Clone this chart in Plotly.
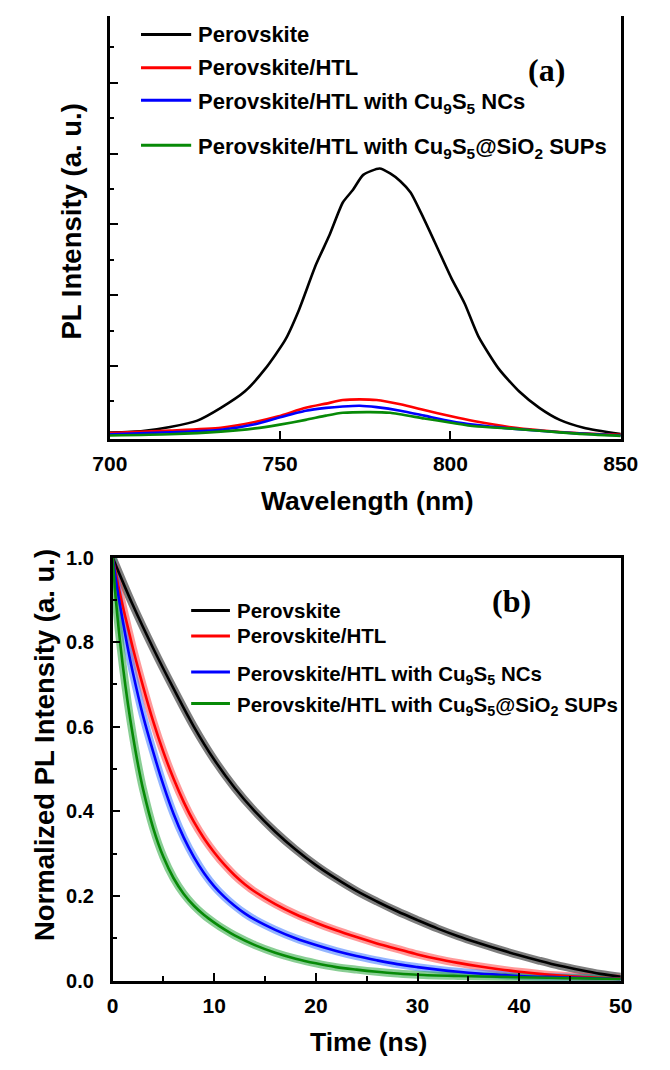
import plotly.graph_objects as go

# ---------------- data ----------------
series_names = [
    "Perovskite",
    "Perovskite/HTL",
    "Perovskite/HTL with Cu<sub>9</sub>S<sub>5</sub> NCs",
    "Perovskite/HTL with Cu<sub>9</sub>S<sub>5</sub>@SiO<sub>2</sub> SUPs",
]
colors = ["#000000", "#ff0000", "#0000ff", "#078a07"]
raw_colors = ["rgba(70,70,70,0.7)", "rgba(255,70,70,0.55)", "rgba(60,120,255,0.55)", "rgba(40,165,60,0.55)"]

# (a) steady-state PL spectra
wl_black = [700, 709.7, 717.7, 725.7, 732.6, 739.6, 745.6, 751.5, 755.5, 760.5, 764.5, 768.4, 771.4, 774.4,
            779.2, 782.3, 785.3, 788.3, 791.3, 795.3, 800.2, 804.2, 808.2, 814.2, 820.2, 826.1, 832.1, 839.1, 850]
pl_black = [0.06, 0.083, 0.14, 0.23, 0.41, 0.64, 0.96, 1.37, 1.79, 2.43, 2.85, 3.31, 3.49, 3.70,
            3.79, 3.72, 3.61, 3.45, 3.17, 2.76, 2.25, 1.88, 1.42, 0.96, 0.64, 0.41, 0.24, 0.13, 0.04]
wl_red = [700, 717.7, 732.6, 742.6, 749.5, 757.5, 763.5, 768.4, 773.4, 778.3, 785.3, 792.3, 800.2, 807.2,
          817.2, 827.1, 837.1, 850]
pl_red = [0.055, 0.09, 0.13, 0.21, 0.29, 0.41, 0.47, 0.52, 0.53, 0.52, 0.46, 0.38, 0.29, 0.22,
          0.14, 0.09, 0.055, 0.03]
wl_blue = [700, 717.7, 732.6, 742.6, 749.5, 757.5, 763.5, 768.4, 773.4, 778.3, 785.3, 792.3, 800.2, 807.2,
           817.2, 827.1, 837.1, 850]
pl_blue = [0.037, 0.065, 0.10, 0.18, 0.27, 0.37, 0.41, 0.43, 0.44, 0.42, 0.37, 0.30, 0.22, 0.17,
           0.12, 0.083, 0.05, 0.02]
wl_green = [700, 717.7, 732.6, 742.6, 749.5, 757.5, 763.5, 768.4, 776.4, 782.3, 792.3, 800.2, 807.2,
            817.2, 827.1, 837.1, 850]
pl_green = [0.02, 0.037, 0.074, 0.12, 0.17, 0.24, 0.30, 0.34, 0.35, 0.34, 0.26, 0.20, 0.15,
            0.12, 0.083, 0.046, 0.014]

# (b) time-resolved PL decays (normalized)
t_black = [0, 2, 4, 6, 8, 10, 12, 14, 16, 18, 20, 22, 24, 26, 28, 30, 32, 34, 36, 38, 40, 42, 44, 46, 48, 50]
i_black = [1.0, 0.887, 0.785, 0.69, 0.60, 0.522, 0.456, 0.40, 0.352, 0.310, 0.273, 0.241, 0.212, 0.187,
           0.164, 0.143, 0.123, 0.105, 0.089, 0.074, 0.060, 0.047, 0.035, 0.025, 0.016, 0.009]
t_red = [0, 0.5, 1, 1.5, 2, 3, 4, 5, 6, 7, 8, 9, 10, 11, 12, 13, 14, 16, 18, 20, 22, 24, 26, 28, 30, 32,
         34, 36, 38, 40, 42, 44, 46, 48, 50]
i_red = [1.0, 0.94, 0.885, 0.835, 0.785, 0.695, 0.612, 0.54, 0.477, 0.422, 0.375, 0.336, 0.303, 0.274,
         0.249, 0.228, 0.210, 0.181, 0.157, 0.137, 0.119, 0.103, 0.088, 0.075, 0.062, 0.051, 0.042, 0.034,
         0.027, 0.021, 0.016, 0.012, 0.009, 0.007, 0.005]
t_blue = [0, 0.5, 1, 1.5, 2, 3, 4, 5, 6, 7, 8, 9, 10, 11, 12, 13, 14, 16, 18, 20, 22, 24, 26, 28, 30, 32,
          34, 36, 38, 40, 44, 50]
i_blue = [1.0, 0.92, 0.85, 0.785, 0.727, 0.625, 0.54, 0.462, 0.394, 0.338, 0.292, 0.254, 0.223, 0.198,
          0.177, 0.159, 0.144, 0.12, 0.100, 0.084, 0.07, 0.058, 0.048, 0.039, 0.032, 0.026, 0.021, 0.017,
          0.014, 0.011, 0.008, 0.004]
t_green = [0, 0.3, 0.6, 1, 1.5, 2, 2.5, 3, 4, 5, 6, 7, 8, 9, 10, 11, 12, 14, 16, 18, 20, 22, 24, 26, 28,
           30, 34, 40, 50]
i_green = [1.0, 0.905, 0.83, 0.745, 0.655, 0.578, 0.51, 0.452, 0.36, 0.292, 0.242, 0.205, 0.177, 0.155,
           0.137, 0.121, 0.107, 0.084, 0.066, 0.052, 0.041, 0.032, 0.026, 0.021, 0.017, 0.014, 0.011,
           0.008, 0.004]

x_ticks_a = [700, 750, 800, 850]
x_ticks_b = [0, 10, 20, 30, 40, 50]
y_ticks_b = [0.0, 0.2, 0.4, 0.6, 0.8, 1.0]

# ---------------- figure ----------------
W, H = 670, 1070
def py(p):  # pixel row -> paper y
    return 1 - p / H
def px(p):
    return p / W

fig = go.Figure()
spectra = [(wl_black, pl_black), (wl_red, pl_red), (wl_blue, pl_blue), (wl_green, pl_green)]
decays = [(t_black, i_black), (t_red, i_red), (t_blue, i_blue), (t_green, i_green)]

for k, (x, y) in enumerate(spectra):
    fig.add_trace(go.Scatter(x=x, y=y, mode="lines", name=series_names[k], showlegend=False,
                             line=dict(color=colors[k], width=2.6, shape="spline", smoothing=0.6),
                             xaxis="x", yaxis="y"))

for k, (x, y) in enumerate(decays):
    fig.add_trace(go.Scatter(x=x, y=y, mode="lines", showlegend=False, hoverinfo="skip",
                             line=dict(color=raw_colors[k], width=8, shape="spline", smoothing=1.0),
                             xaxis="x2", yaxis="y2"))
for k, (x, y) in enumerate(decays):
    fig.add_trace(go.Scatter(x=x, y=y, mode="lines", name=series_names[k], showlegend=False,
                             line=dict(color=colors[k], width=2.6, shape="spline", smoothing=1.0),
                             xaxis="x2", yaxis="y2"))

FONT = "Liberation Sans, Arial, sans-serif"
axis_common = dict(showline=True, linecolor="black", linewidth=2.5, ticks="inside",
                   tickcolor="black", tickwidth=2, ticklen=8, showgrid=False, zeroline=False)

fig.update_layout(
    width=W, height=H, margin=dict(l=0, r=0, t=0, b=0),
    paper_bgcolor="white", plot_bgcolor="white",
    xaxis=dict(domain=[px(97), px(637)], range=[700, 850], tickvals=x_ticks_a,
               ticktext=[f"<b>{v}</b>" for v in x_ticks_a], anchor="y", mirror=False,
               tickfont=dict(family=FONT, size=21, color="black"), ticklabelstandoff=4,
               **axis_common),
    yaxis=dict(domain=[py(437), py(5)], range=[-0.03, 5.945], tickvals=[1, 2, 3, 4, 5],
               showticklabels=False, anchor="x", mirror=True,
               minor=dict(ticks="inside", tickvals=[0.5, 1.5, 2.5, 3.5, 4.5, 5.5], ticklen=4,
                          tickwidth=2, tickcolor="black"),
               **axis_common),
    xaxis2=dict(domain=[px(100), px(637)], range=[0, 50], tickvals=x_ticks_b,
                ticktext=[f"<b>{v}</b>" for v in x_ticks_b], anchor="y2", mirror=True,
                tickfont=dict(family=FONT, size=21, color="black"), ticklabelstandoff=4,
                minor=dict(ticks="inside", tickvals=[5, 15, 25, 35, 45], ticklen=5,
                           tickwidth=2, tickcolor="black"),
                **axis_common),
    yaxis2=dict(domain=[py(990), py(558)], range=[0, 1.0], tickvals=y_ticks_b,
                ticktext=[f"<b>{v:.1f}</b>" for v in y_ticks_b], anchor="x2", mirror=True,
                tickfont=dict(family=FONT, size=20, color="black"), ticklabelstandoff=12,
                minor=dict(ticks="inside", tickvals=[0.1, 0.3, 0.5, 0.7, 0.9], ticklen=5,
                           tickwidth=2, tickcolor="black"),
                **axis_common),
)

ann = []
xt_font = dict(family=FONT, size=26.5, color="black")
yt_font = dict(family=FONT, size=27.5, color="black")
ann.append(dict(text="<b>Wavelength (nm)</b>", x=px(369), y=py(500), xref="paper", yref="paper",
                showarrow=False, font=xt_font, xanchor="center", yanchor="middle"))
ann.append(dict(text="<b>PL Intensity (a. u.)</b>", x=px(57), y=py(215), xref="paper", yref="paper",
                showarrow=False, font=yt_font, textangle=-90, xanchor="center", yanchor="middle"))
ann.append(dict(text="<b>Time (ns)</b>", x=px(370), y=py(1053), xref="paper", yref="paper",
                showarrow=False, font=xt_font, xanchor="center", yanchor="middle"))
ann.append(dict(text="<b>Normalized PL Intensity (a. u.)</b>", x=px(28), y=py(749), xref="paper",
                yref="paper", showarrow=False, font=yt_font, textangle=-90,
                xanchor="center", yanchor="middle"))
serif = "Liberation Serif, Times New Roman, serif"
ann.append(dict(text="<b>(a)</b>", x=px(559), y=py(60), xref="paper", yref="paper", showarrow=False,
                font=dict(family=serif, size=32, color="black"), xanchor="center", yanchor="middle"))
ann.append(dict(text="<b>(b)</b>", x=px(521), y=py(602), xref="paper", yref="paper", showarrow=False,
                font=dict(family=serif, size=32, color="black"), xanchor="center", yanchor="middle"))

# legends drawn manually (line sample + label)
shapes = []
rows_a = [24, 58, 91, 137]
rows_b = [612, 638, 675, 707]
sub_shift = [0, 0, 3, 3]
for k in range(4):
    shapes.append(dict(type="line", xref="paper", yref="paper", x0=px(130), x1=px(183),
                       y0=py(rows_a[k]), y1=py(rows_a[k]), line=dict(color=colors[k], width=3)))
    ann.append(dict(text=f"<b>{series_names[k]}</b>", x=px(188), y=py(rows_a[k] + sub_shift[k]),
                    xref="paper", yref="paper", showarrow=False, xanchor="left", yanchor="middle",
                    font=dict(family=FONT, size=22, color="black")))
    shapes.append(dict(type="line", xref="paper", yref="paper", x0=px(183), x1=px(224),
                       y0=py(rows_b[k]), y1=py(rows_b[k]), line=dict(color=colors[k], width=3)))
    ann.append(dict(text=f"<b>{series_names[k]}</b>", x=px(229), y=py(rows_b[k] + sub_shift[k]),
                    xref="paper", yref="paper", showarrow=False, xanchor="left", yanchor="middle",
                    font=dict(family=FONT, size=20.5, color="black")))

fig.update_layout(annotations=ann, shapes=shapes)
fig.write_html("out.html", config={"displayModeBar": False},
               post_script="document.body.style.margin='0';")
